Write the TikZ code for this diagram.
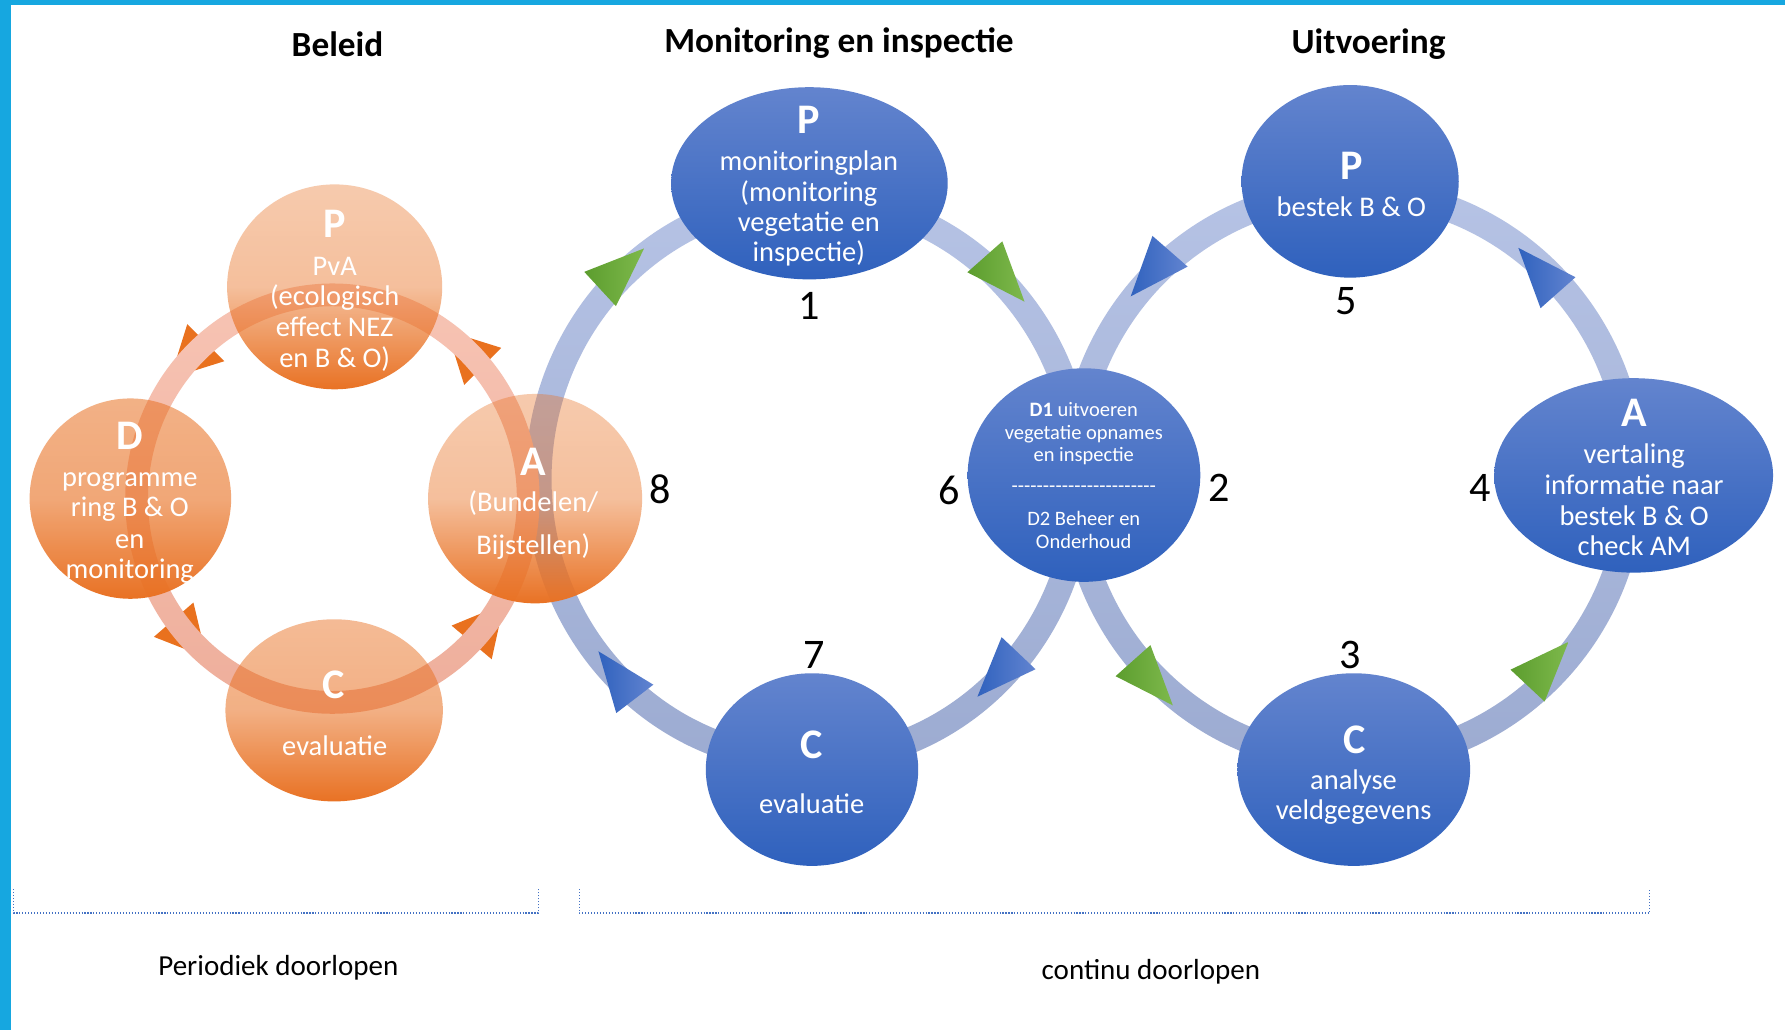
\documentclass[tikz,border=0pt]{standalone}
\usepackage{fontspec}
\setmainfont{Carlito}
\newfontfamily\plainfont{Carlito}
\usetikzlibrary{shapes.geometric,calc,fadings}

\definecolor{bordercol}{RGB}{22,167,224}
\definecolor{obase}{RGB}{233,114,36}
\definecolor{otricol}{RGB}{233,113,30}
\definecolor{oringtop}{RGB}{247,196,180}
\definecolor{oringbot}{RGB}{238,174,155}
\definecolor{bringtop}{RGB}{182,195,229}
\definecolor{bringbot}{RGB}{156,171,209}
\definecolor{btop}{RGB}{99,132,206}
\definecolor{bbot}{RGB}{47,97,189}
\definecolor{gdark}{RGB}{92,157,46}
\definecolor{glight}{RGB}{126,185,76}
\definecolor{tbdark}{RGB}{48,98,190}
\definecolor{tblight}{RGB}{98,132,208}
\definecolor{bracketcol}{RGB}{68,114,196}

\tikzfading[name=fadeP, top color=transparent!63, bottom color=transparent!0, middle color=transparent!55]
\tikzfading[name=fadeD, top color=transparent!45, bottom color=transparent!0, middle color=transparent!38]
\tikzfading[name=fadeC, top color=transparent!52, bottom color=transparent!0, middle color=transparent!44]

\newcommand\flowtri[4]{%
  \shade[#4, shift={(#1,-#2)}, rotate=#3] (35.1,0) -- (-17.5,20.5) -- (-17.5,-20.5) -- cycle;}

\begin{document}
\begin{tikzpicture}[x=1pt,y=1pt,
  ocirc/.style={ellipse, draw=none, fill=obase, inner sep=0pt},
  bcirc/.style={ellipse, draw=none, top color=btop, bottom color=bbot, inner sep=0pt},
  gtri/.style={left color=gdark, right color=glight},
  btri/.style={left color=tbdark, right color=tblight},
  lbl/.style={inner sep=0pt, anchor=base, text=white, font=\fontsize{25}{27}\selectfont},
  lblb/.style={inner sep=0pt, anchor=base, text=white, font=\bfseries\fontsize{37}{40}\selectfont},
  lbls/.style={inner sep=0pt, anchor=base, text=white, font=\fontsize{18}{20}\selectfont},
  num/.style={inner sep=0pt, anchor=base, text=black, font=\fontsize{37}{40}\selectfont},
  ttl/.style={inner sep=0pt, anchor=base, text=black, font=\bfseries\fontsize{31}{34}\selectfont},
  foot/.style={inner sep=0pt, anchor=base, text=black, font=\fontsize{25.5}{28}\selectfont},
  bracket/.style={draw=bracketcol, line width=1pt, dash pattern=on 1pt off 1.6pt}
]
\useasboundingbox (0,0) rectangle (1568,-904.8);
\fill[white] (0,0) rectangle (1568,-904.8);
\fill[bordercol] (0,0) rectangle (1568,-4.5);
\fill[bordercol] (0,0) rectangle (10,-904.8);

% ring centres
\coordinate (oc) at (292,-438);
\coordinate (mc) at (711,-421);
\coordinate (rc) at (1188,-418);

% orange arrow heads (under the ring)
\foreach \t in {45,135,221,320}
  \fill[otricol, shift={($(oc)+(\t:172 and 179)$)}, rotate={\t+90}] (29.3,0) -- (-14.7,23) -- (-14.7,-23) -- cycle;

% blue rings
\shade[top color=bringtop, bottom color=bringbot, even odd rule]
  (mc) ellipse [x radius=249.5, y radius=258.5] (mc) ellipse [x radius=226.5, y radius=235.5];
\shade[top color=bringtop, bottom color=bringbot, even odd rule]
  (rc) ellipse [x radius=257.5, y radius=261.5] (rc) ellipse [x radius=234.5, y radius=238.5];

% orange ring
\shade[top color=oringtop, bottom color=oringbot, even odd rule]
  (oc) ellipse [x radius=182, y radius=189] (oc) ellipse [x radius=162, y radius=169];

% arrow heads on blue rings
\flowtri{540}{242}{42.7}{gtri}
\flowtri{876.7}{238.7}{-48.5}{gtri}
\flowtri{1006.9}{593.4}{-48.3}{gtri}
\flowtri{1353.8}{589.5}{46.9}{gtri}
\flowtri{1357}{244}{131.5}{btri}
\flowtri{1016.3}{233.9}{-131.1}{btri}
\flowtri{882.7}{586.5}{-133.4}{btri}
\flowtri{547}{600}{127.4}{btri}

% orange circles
\node[ocirc, path fading=fadeP, minimum width=189pt, minimum height=180pt] (oP) at (294,-252) {};
\node[ocirc, path fading=fadeD, minimum width=177pt, minimum height=176pt] (oD) at (114.5,-438) {};
\node[ocirc, path fading=fadeP, minimum width=188pt, minimum height=184pt] (oA) at (470,-438) {};
\node[ocirc, path fading=fadeC, minimum width=191pt, minimum height=160pt] (oC) at (293.5,-624) {};

% blue circles
\node[bcirc, minimum width=243pt, minimum height=168.8pt] (mP) at (711,-161) {};
\node[bcirc, minimum width=204.4pt, minimum height=187.6pt] (mD) at (952.2,-417.3) {};
\node[bcirc, minimum width=186.6pt, minimum height=169.2pt] (mC) at (713.3,-676) {};
\node[bcirc, minimum width=190.8pt, minimum height=169.2pt] (uP) at (1186,-159.3) {};
\node[bcirc, minimum width=245pt, minimum height=170.8pt] (uA) at (1435,-417.6) {};
\node[bcirc, minimum width=204.4pt, minimum height=169.2pt] (uC) at (1189.2,-676) {};

% titles
\node[ttl] (t1) at (296.5,-49.2) {Beleid};
\node[ttl] (t2) at (737,-46.3) {Monitoring en inspectie};
\node[ttl] (t3) at (1202.2,-47.4) {Uitvoering};

% orange P
\node[lblb] (oPl) at (294,-208.5) {P};
\node[lbl] (oP1) at (294,-241.6) {PvA};
\node[lbl] (oP2) at (294,-268.5) {(ecologisch};
\node[lbl] (oP3) at (294,-295.5) {effect NEZ};
\node[lbl] (oP4) at (294,-322.5) {en B \& O)};
% orange D
\node[lblb] (oDl) at (114,-394.7) {D};
\node[lbl] (oD1) at (114,-427.5) {programme};
\node[lbl] (oD2) at (114,-454) {ring B \& O};
\node[lbl] (oD3) at (114,-481.5) {en};
\node[lbl] (oD4) at (114,-508) {monitoring};
% orange A
\node[lblb] (oAl) at (468.5,-417.3) {A};
\node[lbl] (oA1) at (468.5,-449.4) {(Bundelen/};
\node[lbl] (oA2) at (468.5,-487.5) {Bijstellen)};
% orange C
\node[lblb] (oCl) at (293.5,-613.4) {C};
\node[lbl] (oC1) at (294,-663.8) {evaluatie};

% monitoring P
\node[lblb] (mPl) at (710.5,-117.1) {P};
\node[lbl] (mP1) at (710.5,-150) {monitoringplan};
\node[lbl] (mP2) at (710.5,-176.6) {(monitoring};
\node[lbl] (mP3) at (710.5,-203.5) {vegetatie en};
\node[lbl] (mP4) at (710.5,-229.9) {inspectie)};
% D
\node[lbls] (mD1) at (952,-366) {\textbf{D1} uitvoeren};
\node[lbls] (mD2) at (952,-385.9) {vegetatie opnames};
\node[lbls] (mD3) at (952,-405.5) {en inspectie};
\node[lbls] (mD4) at (952,-433) {\plainfont -----------------------};
\node[lbls] (mD5) at (952,-461.2) {D2 Beheer en};
\node[lbls] (mD6) at (952,-481.7) {Onderhoud};
% monitoring C
\node[lblb] (mCl) at (713,-666) {C};
\node[lbl] (mC1) at (713,-715) {evaluatie};
% uitvoering P
\node[lblb] (uPl) at (1187,-158) {P};
\node[lbl] (uP1) at (1187,-190.3) {bestek B \& O};
% uitvoering A
\node[lblb] (uAl) at (1435.5,-374.8) {A};
\node[lbl] (uA1) at (1435.5,-407) {vertaling};
\node[lbl] (uA2) at (1435.5,-434) {informatie naar};
\node[lbl] (uA3) at (1435.5,-461.2) {bestek B \& O};
\node[lbl] (uA4) at (1435.5,-488) {check AM};
% uitvoering C
\node[lblb] (uCl) at (1190,-661.7) {C};
\node[lbl] (uC1) at (1189,-693.3) {analyse};
\node[lbl] (uC2) at (1189,-720.3) {veldgegevens};

% step numbers
\node[num] (n1) at (710.6,-281) {1};
\node[num] (n2) at (1071,-440.7) {2};
\node[num] (n3) at (1186.2,-587) {3};
\node[num] (n4) at (1300.5,-440.7) {4};
\node[num] (n5) at (1182.8,-276.7) {5};
\node[num] (n6) at (834,-443.6) {6};
\node[num] (n7) at (715,-587) {7};
\node[num] (n8) at (579.8,-442) {8};

% brackets
\coordinate (bl1) at (12,-781);
\coordinate (bl2) at (473,-781);
\coordinate (br1) at (509,-781);
\coordinate (br2) at (1449,-781);
\draw[bracket] (bl1) -- ++(0,-21) -| (bl2);
\draw[bracket] (br1) -- ++(0,-21) -| (br2);
\node[foot] (f1) at (244.5,-856.5) {Periodiek doorlopen};
\node[foot] (f2) at (1011,-860.8) {continu doorlopen};
\end{tikzpicture}
\end{document}
